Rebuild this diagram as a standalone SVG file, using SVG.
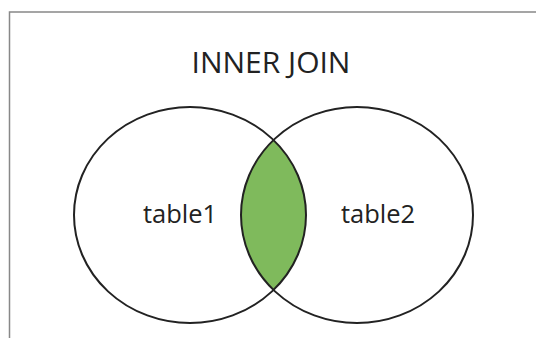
<svg xmlns="http://www.w3.org/2000/svg" width="536" height="338" viewBox="0 0 536 338">
  <style>
    .set { fill: none; stroke: #222; stroke-width: 2; }
    .lens { fill: #7fba5c; stroke: none; }
    .lbl { font-family: "Open Sans", "Liberation Sans", sans-serif; fill: #222; }
    .frame { fill: none; stroke: #888; stroke-width: 1.5; }
  </style>
  <rect width="536" height="338" fill="#ffffff"/>
  <path class="frame" d="M9.5,338 V12 H536"/>
  <g id="title">
    <text class="lbl" x="271" y="73" font-size="30" text-anchor="middle">INNER JOIN</text>
  </g>
  <g id="intersection">
    <path class="lens" d="M273.5,140 A116,108 0 0,0 273.5,290 A116,108 0 0,0 273.5,140 Z"/>
  </g>
  <g id="table1">
    <ellipse class="set" cx="190" cy="215" rx="116" ry="108"/>
    <text class="lbl" x="180" y="223" font-size="25.5" text-anchor="middle">table1</text>
  </g>
  <g id="table2">
    <ellipse class="set" cx="357" cy="215" rx="116" ry="108"/>
    <text class="lbl" x="378" y="223" font-size="25.5" text-anchor="middle">table2</text>
  </g>
</svg>
